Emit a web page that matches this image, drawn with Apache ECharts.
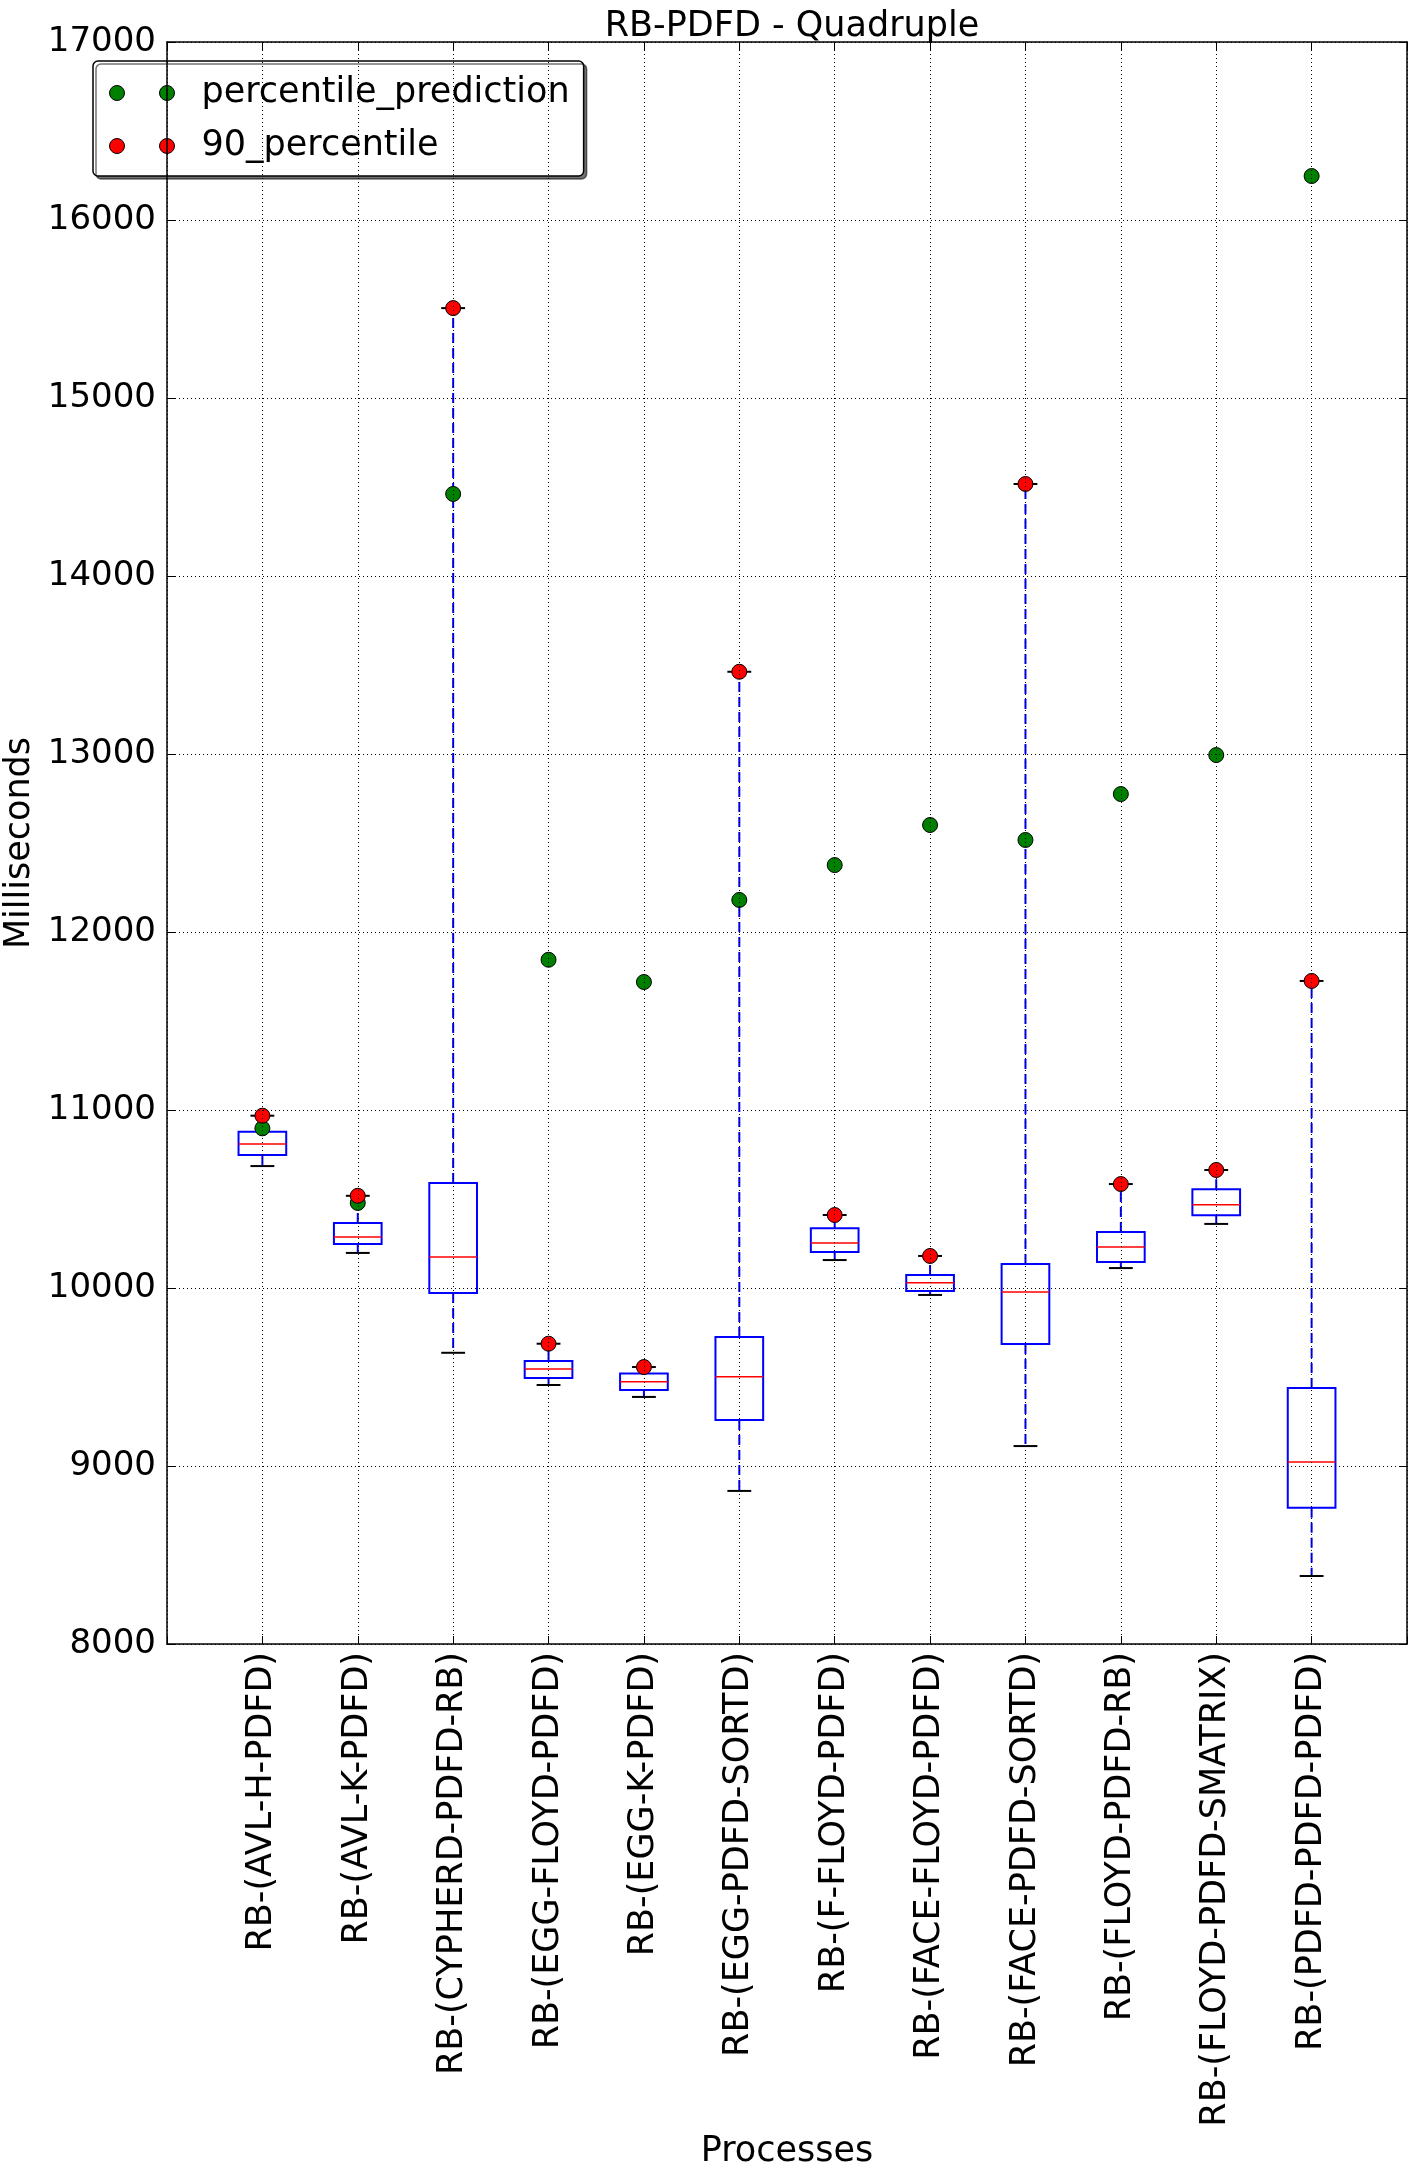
<!DOCTYPE html>
<html>
<head>
<meta charset="utf-8">
<script src="https://cdn.jsdelivr.net/npm/echarts@6/dist/echarts.min.js"></script>
<style>
html,body{margin:0;padding:0;background:#fff;}
#chart{width:1417px;height:2176px;}
</style>
</head>
<body>
<div id="chart"></div>
<script>
// ---- data ----
const categories = [
  'RB-(AVL-H-PDFD)','RB-(AVL-K-PDFD)','RB-(CYPHERD-PDFD-RB)','RB-(EGG-FLOYD-PDFD)',
  'RB-(EGG-K-PDFD)','RB-(EGG-PDFD-SORTD)','RB-(F-FLOYD-PDFD)','RB-(FACE-FLOYD-PDFD)',
  'RB-(FACE-PDFD-SORTD)','RB-(FLOYD-PDFD-RB)','RB-(FLOYD-PDFD-SMATRIX)','RB-(PDFD-PDFD-PDFD)'
];
const whiskerLow  = [10685, 10197, 9636, 9455, 9388, 8860, 10157, 9961, 9112, 10112, 10360, 8382];
const q1          = [10747, 10247, 9972, 9494, 9427, 9258, 10202, 9983, 9685, 10146, 10409, 8766];
const median      = [10809, 10287, 10174, 9545, 9474, 9502, 10253, 10030, 9978, 10230, 10467, 9022];
const q3          = [10878, 10365, 10590, 9590, 9519, 9725, 10335, 10073, 10135, 10315, 10555, 9438];
const whiskerHigh = [10968, 10518, 15505, 9687, 9556, 13462, 10410, 10180, 14517, 10584, 10663, 11725];
const percentile90         = [10968, 10518, 15505, 9687, 9556, 13462, 10410, 10180, 14517, 10584, 10663, 11725];
const percentilePrediction = [10897, 10478, 14461, 11844, 11719, 12180, 12376, 12601, 12517, 12775, 12994, 16247];
const yTicks = [8000, 9000, 10000, 11000, 12000, 13000, 14000, 15000, 16000, 17000];

// ---- build ----
const boxData = categories.map((c, i) => [i + 1, whiskerLow[i], q1[i], median[i], q3[i], whiskerHigh[i]]);
const predData = categories.map((c, i) => [i + 1, percentilePrediction[i]]);
const p90Data = categories.map((c, i) => [i + 1, percentile90[i]]);

const FONT = '"DejaVu Sans", sans-serif';
const chart = echarts.init(document.getElementById('chart'), null, {renderer: 'canvas'});

function renderBox(params, api) {
  const x = api.value(0);
  const lo = api.value(1), a = api.value(2), m = api.value(3), b = api.value(4), hi = api.value(5);
  const hw = 0.25, cw = 0.125;
  const pLo = api.coord([x, lo]), pA = api.coord([x, a]), pM = api.coord([x, m]);
  const pB = api.coord([x, b]), pHi = api.coord([x, hi]);
  const xl = api.coord([x - hw, m])[0], xr = api.coord([x + hw, m])[0];
  const cl = api.coord([x - cw, m])[0], cr = api.coord([x + cw, m])[0];
  const dash = {stroke: '#0000ff', lineWidth: 2, lineDash: [10, 5], fill: null};
  return {
    type: 'group',
    children: [
      {type: 'line', shape: {x1: pB[0], y1: pB[1], x2: pHi[0], y2: pHi[1]}, style: dash},
      {type: 'line', shape: {x1: pA[0], y1: pA[1], x2: pLo[0], y2: pLo[1]}, style: dash},
      {type: 'line', shape: {x1: cl, y1: pHi[1], x2: cr, y2: pHi[1]}, style: {stroke: '#000', lineWidth: 2}},
      {type: 'line', shape: {x1: cl, y1: pLo[1], x2: cr, y2: pLo[1]}, style: {stroke: '#000', lineWidth: 2}},
      {type: 'rect', shape: {x: xl, y: pB[1], width: xr - xl, height: pA[1] - pB[1]},
        style: {stroke: '#0000ff', lineWidth: 2, fill: null}},
      {type: 'line', shape: {x1: xl, y1: pM[1], x2: xr, y2: pM[1]}, style: {stroke: '#ff0000', lineWidth: 1.5}}
    ]
  };
}

const twoDots = 'path://M0,7.5a7.5,7.5 0 1,0 15,0a7.5,7.5 0 1,0 -15,0M50,7.5a7.5,7.5 0 1,0 15,0a7.5,7.5 0 1,0 -15,0';

const option = {
  backgroundColor: '#fff',
  animation: false,
  textStyle: {fontFamily: FONT, color: '#000'},
  title: {
    text: 'RB-PDFD - Quadruple',
    left: 787, textAlign: 'center', top: 4,
    textStyle: {fontFamily: FONT, fontSize: 35, fontWeight: 'normal', color: '#000'}
  },
  legend: {
    orient: 'vertical',
    left: 93, top: 61,
    padding: [12, 14, 10, 16],
    itemWidth: 65, itemHeight: 15, itemGap: 13,
    backgroundColor: '#fff',
    borderColor: '#000', borderWidth: 1.5, borderRadius: 5,
    shadowColor: 'rgba(0,0,0,0.55)', shadowBlur: 0, shadowOffsetX: 3, shadowOffsetY: 3,
    textStyle: {fontFamily: FONT, fontSize: 35, color: '#000', lineHeight: 40, padding: [0, 0, 0, 22]},
    data: [
      {name: 'percentile_prediction', icon: twoDots, itemStyle: {color: '#008000', borderColor: '#000', borderWidth: 1}},
      {name: '90_percentile', icon: twoDots, itemStyle: {color: '#ff0000', borderColor: '#000', borderWidth: 1}}
    ]
  },
  grid: {left: 167, right: 10, top: 42, bottom: 532, containLabel: false, outerBoundsMode: 'none'},
  xAxis: [{
    type: 'value', min: 0, max: 13, interval: 1, z: 5,
    name: 'Processes', nameLocation: 'middle', nameGap: 490,
    nameTextStyle: {fontFamily: FONT, fontSize: 35, color: '#000'},
    axisLine: {show: true, onZero: false, lineStyle: {color: '#000', width: 1.5}},
    axisTick: {show: true, inside: true, length: 8, lineStyle: {color: '#000'}},
    axisLabel: {
      rotate: 90, margin: 8, fontFamily: FONT, fontSize: 35, color: '#000',
      formatter: v => categories[v - 1] || ''
    },
    splitLine: {show: true, lineStyle: {color: '#000', type: [1, 3], width: 1}}
  }, {
    type: 'value', min: 0, max: 13, interval: 1, position: 'top', z: 5,
    axisLine: {show: true, onZero: false, lineStyle: {color: '#000', width: 1.5}},
    axisTick: {show: true, inside: true, length: 8, lineStyle: {color: '#000'}},
    axisLabel: {show: false}, splitLine: {show: false}
  }],
  yAxis: [{
    type: 'value', min: yTicks[0], max: yTicks[yTicks.length - 1], interval: 1000, z: 5,
    name: 'Milliseconds', nameLocation: 'middle', nameGap: 114,
    nameTextStyle: {fontFamily: FONT, fontSize: 35, color: '#000'},
    axisLine: {show: true, onZero: false, lineStyle: {color: '#000', width: 1.5}},
    axisTick: {show: true, inside: true, length: 8, lineStyle: {color: '#000'}},
    axisLabel: {margin: 11, fontFamily: FONT, fontSize: 34, color: '#000', formatter: v => String(v)},
    splitLine: {show: true, lineStyle: {color: '#000', type: [1, 3], width: 1}}
  }, {
    type: 'value', min: yTicks[0], max: yTicks[yTicks.length - 1], interval: 1000, position: 'right', z: 5,
    axisLine: {show: true, onZero: false, lineStyle: {color: '#000', width: 1.5}},
    axisTick: {show: true, inside: true, length: 8, lineStyle: {color: '#000'}},
    axisLabel: {show: false}, splitLine: {show: false}
  }],
  series: [
    {
      type: 'custom', name: 'box', renderItem: renderBox, data: boxData,
      encode: {x: 0, y: [1, 2, 3, 4, 5]}, z: 2
    },
    {
      type: 'scatter', name: 'percentile_prediction', data: predData,
      symbol: 'circle', symbolSize: 15, z: 3,
      itemStyle: {color: '#008000', borderColor: '#000', borderWidth: 1, opacity: 1}
    },
    {
      type: 'scatter', name: '90_percentile', data: p90Data,
      symbol: 'circle', symbolSize: 15, z: 4,
      itemStyle: {color: '#ff0000', borderColor: '#000', borderWidth: 1, opacity: 1}
    }
  ]
};
chart.setOption(option);
</script>
</body>
</html>
